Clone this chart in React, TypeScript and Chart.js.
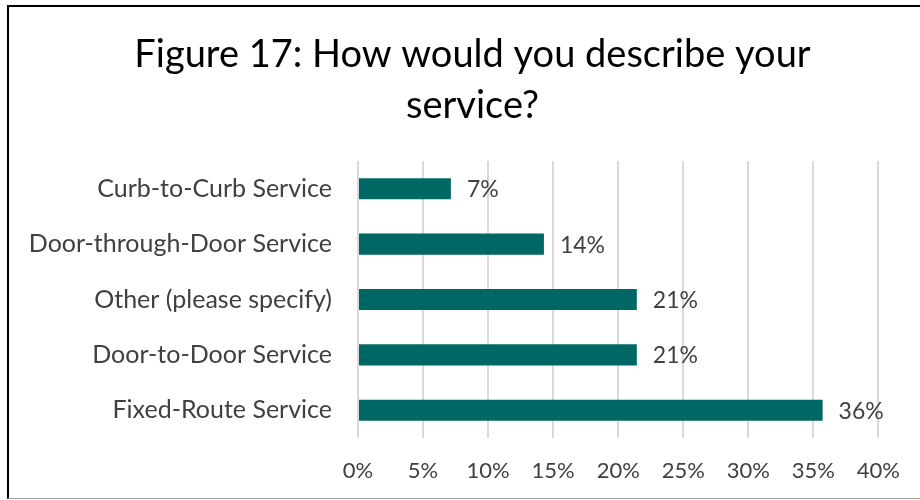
import React, { useEffect, useRef } from "react";
import { Chart, registerables } from "chart.js";

Chart.register(...registerables);

const categories = [
  "Curb-to-Curb Service",
  "Door-through-Door Service",
  "Other (please specify)",
  "Door-to-Door Service",
  "Fixed-Route Service",
];
const shares = [7.14, 14.29, 21.43, 21.43, 35.71];
const titleLines = ["Figure 17: How would you describe your", "service?"];
const axisMax = 40;
const axisStep = 5;

const FONT = "Lato, 'Open Sans', sans-serif";
const TEXT = "#404040";
const BAR = "#006864";

const dataLabels = {
  id: "dataLabels",
  afterDatasetsDraw(chart: any) {
    const ctx = chart.ctx;
    const meta = chart.getDatasetMeta(0);
    ctx.save();
    ctx.font = `23px ${FONT}`;
    ctx.fillStyle = TEXT;
    ctx.textAlign = "left";
    ctx.textBaseline = "middle";
    meta.data.forEach((el: any, i: number) => {
      const v = chart.data.datasets[0].data[i] as number;
      ctx.fillText(Math.round(v) + "%", el.x + 16, el.y + 1);
    });
    ctx.restore();
  },
};

const chartTitle = {
  id: "chartTitle",
  afterDraw(chart: any) {
    const ctx = chart.ctx;
    ctx.save();
    ctx.font = `38px ${FONT}`;
    ctx.fillStyle = "#000";
    ctx.textAlign = "center";
    ctx.textBaseline = "middle";
    const cx = chart.width / 2 + 8;
    titleLines.forEach((line, i) => {
      ctx.fillText(line, cx, 48 + i * 51);
    });
    ctx.restore();
  },
};

export default function App() {
  const ref = useRef<HTMLCanvasElement>(null);
  useEffect(() => {
    if (!ref.current) return;
    const chart = new Chart(ref.current, {
      type: "bar",
      data: {
        labels: categories,
        datasets: [
          {
            data: shares,
            backgroundColor: BAR,
            barPercentage: 0.38,
            categoryPercentage: 1,
          },
        ],
      },
      options: {
        indexAxis: "y",
        animation: false,
        responsive: false,
        maintainAspectRatio: false,
        layout: { padding: { left: 0, right: 41, top: 154, bottom: 0 } },
        plugins: {
          legend: { display: false },
          tooltip: { enabled: false },
          title: { display: false },
        },
        scales: {
          x: {
            min: 0,
            max: axisMax,
            ticks: {
              stepSize: axisStep,
              callback: (v: any) => v + "%",
              color: TEXT,
              font: { family: FONT, size: 22 },
              padding: 20,
            },
            grid: { color: "#d9d9d9", lineWidth: 2, drawTicks: false },
            border: { display: false },
            afterFit: (s: any) => {
              s.height = 60;
            },
          },
          y: {
            ticks: {
              color: TEXT,
              font: { family: FONT, size: 25 },
              padding: 26,
            },
            grid: { display: false, drawTicks: false },
            border: { display: false },
            afterFit: (s: any) => {
              s.width = 349;
            },
          },
        },
      },
      plugins: [dataLabels, chartTitle],
    });
    return () => chart.destroy();
  }, []);

  return (
    <div style={{ position: "absolute", left: 0, top: 0, width: 920, height: 500, background: "#fff" }}>
      <div
        style={{
          position: "absolute",
          left: 7,
          top: 5,
          width: 911,
          height: 491,
          borderLeft: "2px solid #000",
          borderTop: "2px solid #000",
          borderBottom: "1px solid #a6a6a6",
        }}
      >
        <canvas ref={ref} width={911} height={491} style={{ display: "block" }} />
      </div>
    </div>
  );
}
